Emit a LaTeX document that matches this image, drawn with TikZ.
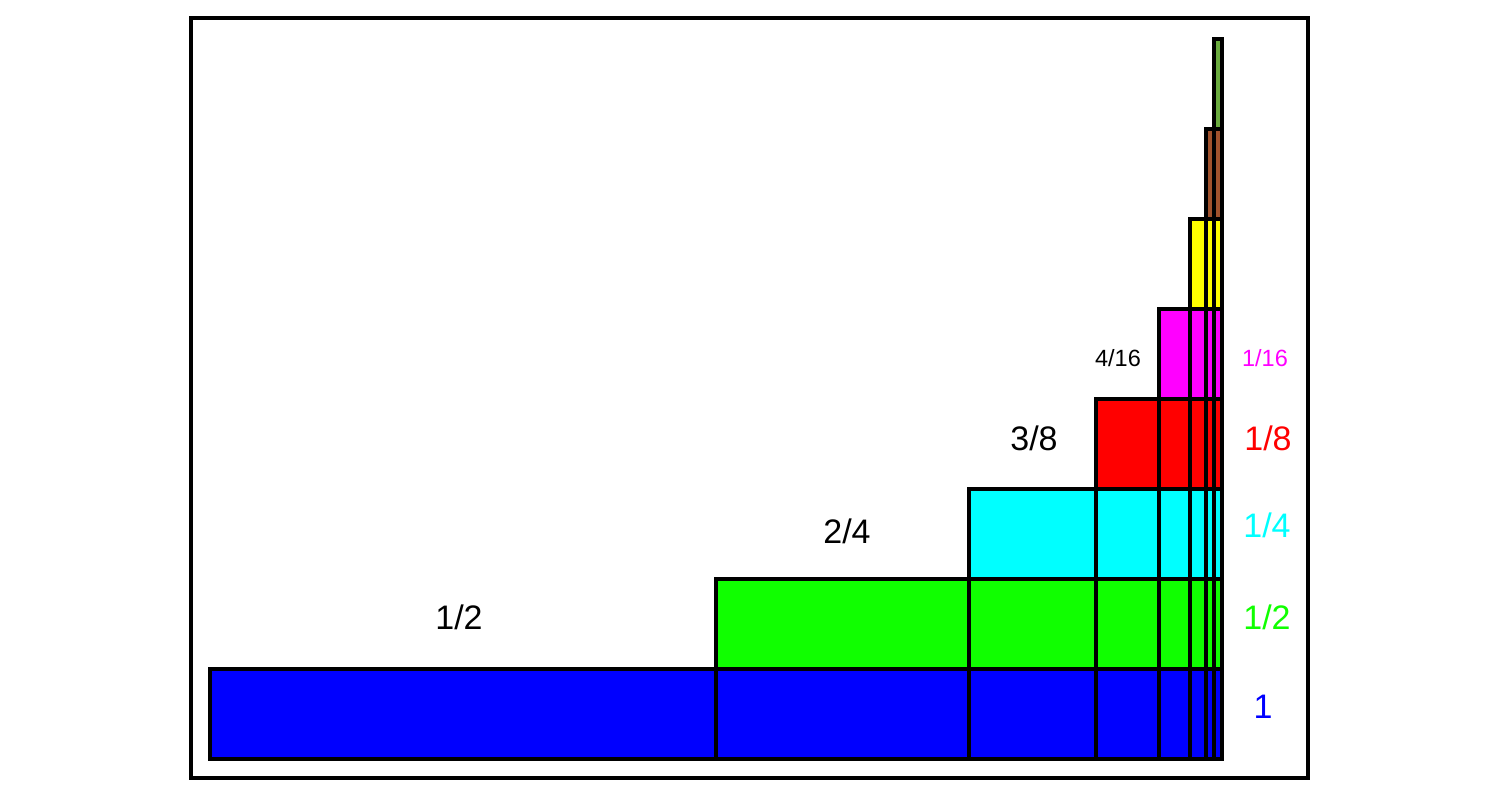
\documentclass[tikz,border=0pt]{standalone}
\usepackage{fontspec}
\setmainfont{Liberation Sans}
\definecolor{cblue}{RGB}{0,0,255}
\definecolor{cgreen}{RGB}{16,255,0}
\definecolor{ccyan}{RGB}{0,255,255}
\definecolor{cred}{RGB}{255,0,0}
\definecolor{cmagenta}{RGB}{255,0,255}
\definecolor{cyellow}{RGB}{255,255,0}
\definecolor{cbrown}{RGB}{160,82,45}
\definecolor{colive}{RGB}{106,170,62}
\tikzset{
  bar/.style={draw=black, line width=3.5pt, line join=miter},
  sep/.style={draw=black, line width=3.5pt},
  lab/.style={inner sep=0pt, font=\fontsize{34}{34}\selectfont},
  smalllab/.style={inner sep=0pt, font=\fontsize{23.5}{23.5}\selectfont},
}
\begin{document}
\begin{tikzpicture}[x=1pt,y=-1pt]
\useasboundingbox (0,0) rectangle (1500,799);
\draw[line width=3.5pt] (191,18) rectangle (1308,778);
% bars
\filldraw[bar, fill=cblue] (210,669) rectangle (1222,759);
\filldraw[bar, fill=cgreen] (716,579) rectangle (1222,669);
\filldraw[bar, fill=ccyan] (969,489) rectangle (1222,579);
\filldraw[bar, fill=cred] (1096,399) rectangle (1222,489);
\filldraw[bar, fill=cmagenta] (1159,309) rectangle (1222,399);
\filldraw[bar, fill=cyellow] (1190,219) rectangle (1222,309);
\filldraw[bar, fill=cbrown] (1206,129) rectangle (1222,219);
\filldraw[bar, fill=colive] (1214,39) rectangle (1222,129);
% separators
\draw[sep] (716,669) -- (716,759);
\draw[sep] (969,579) -- (969,759);
\draw[sep] (1096,489) -- (1096,759);
\draw[sep] (1159,399) -- (1159,759);
\draw[sep] (1190,309) -- (1190,759);
\draw[sep] (1206,219) -- (1206,759);
\draw[sep] (1214,129) -- (1214,759);
% left labels
\node[lab] (l1) at (459,617) {1/2};
\node[lab] (l2) at (847,531) {2/4};
\node[lab] (l3) at (1034,438) {3/8};
\node[smalllab] (l4) at (1118,358) {4/16};
% right labels
\node[lab, text=cblue] (r0) at (1263,707) {1};
\node[lab, text=cgreen] (r1) at (1267,617) {1/2};
\node[lab, text=ccyan] (r2) at (1267,525) {1/4};
\node[lab, text=cred] (r3) at (1268,438) {1/8};
\node[smalllab, text=cmagenta] (r4) at (1265,358) {1/16};
\end{tikzpicture}
\end{document}
